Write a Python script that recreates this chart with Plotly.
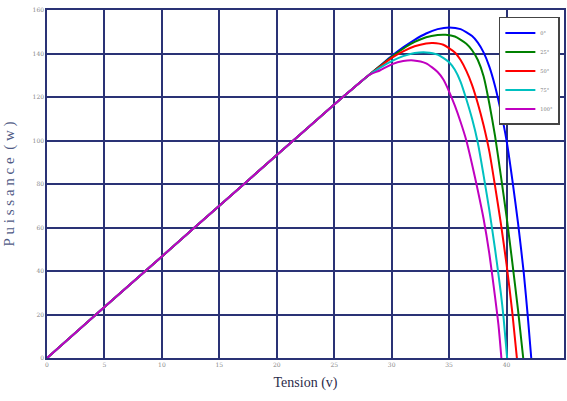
import plotly.graph_objects as go

# Shared (overlapping) low-voltage part of all curves
common_v = [0, 5, 10, 15, 20, 25, 26, 27, 28]
common_p = [0, 23.4, 46.7, 70.0, 93.3, 116.5, 121.1, 125.6, 130.0]

labels = ["0°", "25°", "50°", "75°", "100°"]
colors = ["#0000ff", "#008000", "#ff0000", "#00c0c0", "#c000c0"]

blue_v = [29, 30, 31, 32, 33, 34, 35, 36, 37, 37.5, 38, 38.5, 39, 39.5, 40, 40.5, 41, 41.5, 41.85, 42.15]
blue_p = [134.4, 138.8, 142.8, 146.3, 149.2, 151.2, 152.0, 151.2, 148.0, 145.0, 140.5, 134.0, 125.0, 113.5, 100.0, 82.0, 62.0, 39.0, 19.0, 0]

green_v = [29, 30, 31, 32, 33, 34, 34.7, 35.5, 36.5, 37, 37.5, 38, 38.5, 39, 39.5, 40, 40.5, 41, 41.45]
green_p = [134.3, 138.5, 142.2, 145.3, 147.5, 148.5, 148.6, 147.8, 144.5, 141.5, 137.0, 129.5, 117.0, 102.0, 84.0, 65.0, 44.0, 22.0, 0]

red_v = [29, 30, 31, 32, 33, 33.6, 34.5, 35.5, 36, 36.5, 37, 37.5, 38, 38.5, 39, 39.5, 40, 40.5, 40.9]
red_p = [134.0, 138.0, 141.0, 143.3, 144.6, 144.8, 144.0, 140.5, 137.0, 132.0, 125.5, 117.0, 107.0, 95.0, 79.0, 62.0, 43.0, 21.0, 0]

cyan_v = [29, 30, 31, 32, 33, 34, 35, 35.5, 36, 36.5, 37, 37.5, 38, 38.5, 39, 39.5, 39.75, 40.05]
cyan_p = [133.5, 136.5, 138.8, 140.2, 140.5, 139.5, 136.0, 132.5, 127.0, 119.0, 110.0, 99.0, 84.0, 68.0, 50.0, 30.0, 18.0, 0]

purple_v = [29, 30, 31, 31.9, 33, 34, 34.5, 35, 35.5, 36, 36.5, 37, 37.5, 38, 38.5, 39, 39.3, 39.55]
purple_p = [132.3, 135.0, 136.5, 136.8, 135.5, 131.5, 128.0, 122.5, 116.0, 108.5, 100.0, 89.0, 77.0, 64.0, 48.0, 28.0, 15.0, 0]

series_v = [blue_v, green_v, red_v, cyan_v, purple_v]
series_p = [blue_p, green_p, red_p, cyan_p, purple_p]

x_ticks = [0, 5, 10, 15, 20, 25, 30, 35, 40, 45]
y_ticks = [0, 20, 40, 60, 80, 100, 120, 140, 160]

fig = go.Figure()
for lab, col, v, p in zip(labels, colors, series_v, series_p):
    fig.add_trace(go.Scatter(
        x=common_v + v, y=common_p + p, mode="lines", name=lab,
        line=dict(color=col, width=2, shape="spline", smoothing=0.6),
    ))

grid = "#2a3275"
axis_common = dict(showgrid=True, gridcolor=grid, gridwidth=1.5,
                   showline=True, linecolor=grid, linewidth=1.5, mirror=True,
                   zeroline=False, ticks="", automargin=False,
                   tickfont=dict(size=6, color="#888888", family="DejaVu Serif"))

fig.update_xaxes(range=[0, 45], tickvals=x_ticks, **axis_common,
                 title=dict(text="Tension (v)", standoff=10,
                            font=dict(size=14, color="#2b2b4a", family="Liberation Serif")))
nb = "\u00a0"
ytitle = nb.join(list("Puissance")) + nb + nb + "(" + nb + "w" + nb + ")"
fig.update_yaxes(range=[0, 160], tickvals=y_ticks, **axis_common,
                 title=dict(text=ytitle, standoff=14,
                            font=dict(size=15, color="#505a85", family="Liberation Serif")))

fig.update_layout(
    width=567, height=401,
    margin=dict(l=47, r=3, t=10, b=43),
    paper_bgcolor="white", plot_bgcolor="white",
    showlegend=True,
    legend=dict(x=0.992, y=0.98, xanchor="right", yanchor="top",
                bgcolor="white", bordercolor="#444444", borderwidth=1.5,
                font=dict(size=5, color="#777777", family="DejaVu Serif"),
                itemwidth=30, tracegroupgap=0),
)

fig.write_html("out.html", config={"displayModeBar": False},
               post_script="document.body.style.margin='0';document.body.style.overflow='hidden';")
